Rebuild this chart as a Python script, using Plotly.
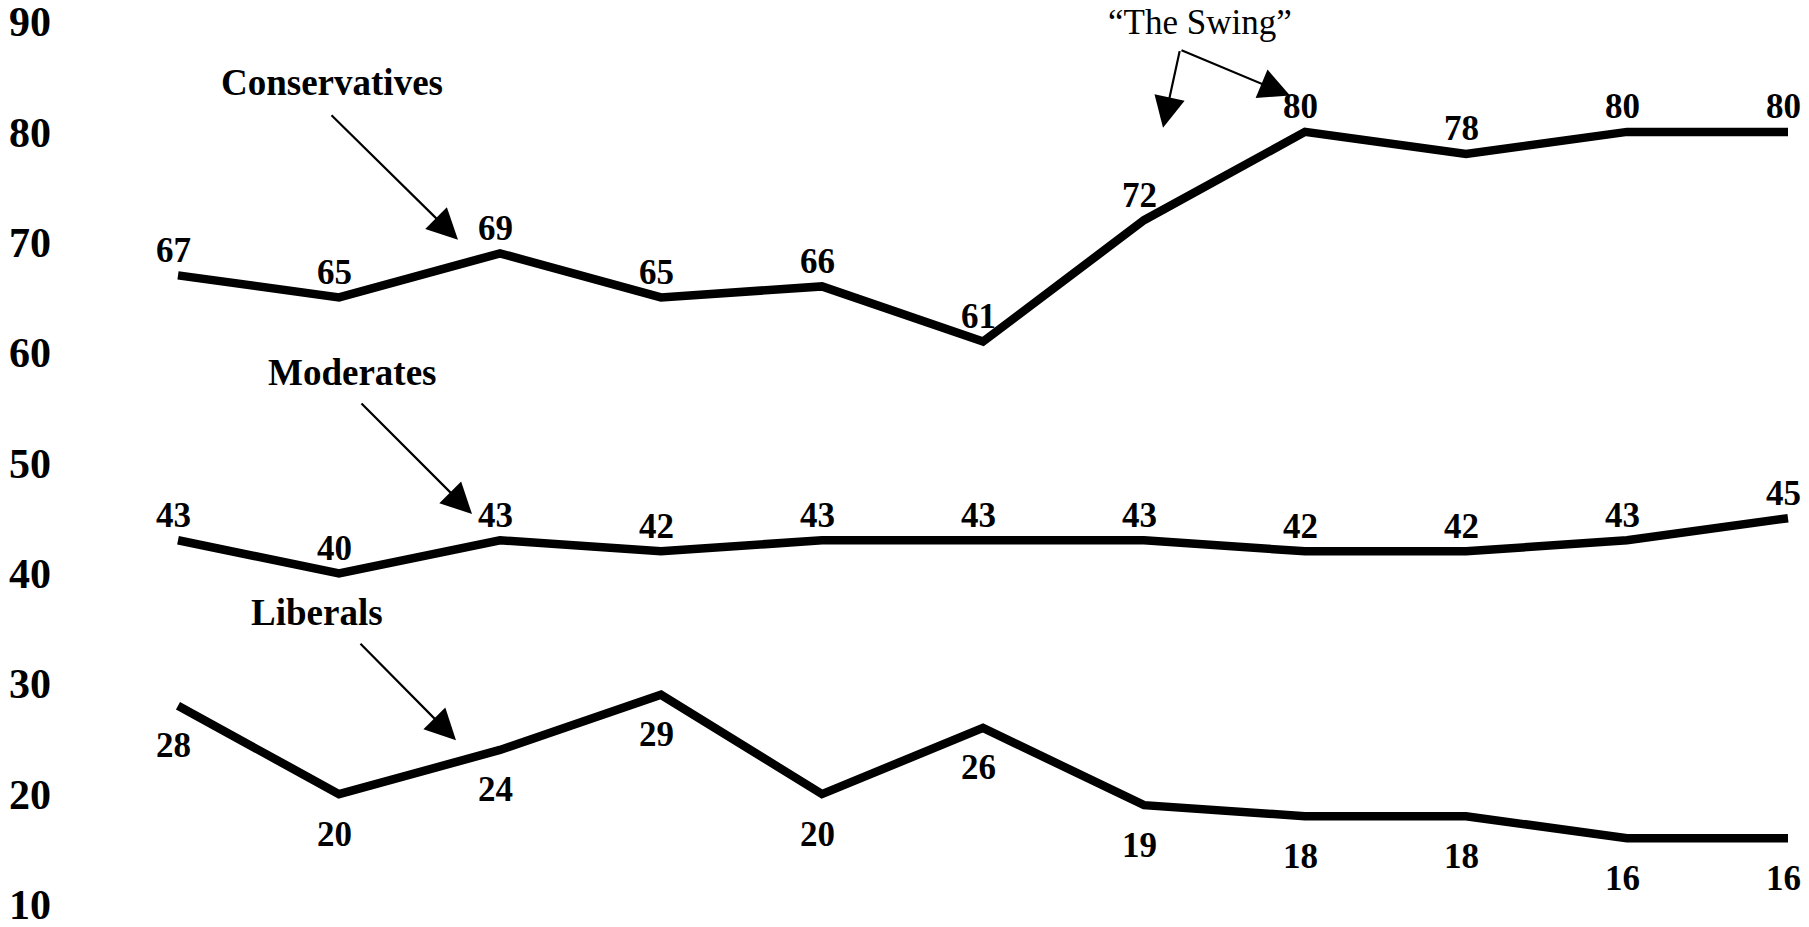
import plotly.graph_objects as go

# ---- data ----
points = list(range(11))
conservatives = [67, 65, 69, 65, 66, 61, 72, 80, 78, 80, 80]
moderates = [43, 40, 43, 42, 43, 43, 43, 42, 42, 43, 45]
liberals = [28, 20, 24, 29, 20, 26, 19, 18, 18, 16, 16]
y_ticks = [10, 20, 30, 40, 50, 60, 70, 80, 90]

# the page body has an 8px margin: size the figure so the page fits the window
OFF = 8
W, H = 1809 - 2 * OFF, 927 - 2 * OFF
Y_LO, Y_HI = 9.5, 90.5
Y90_PX, Y10_PX = 22, 904            # screenshot y of 90 and 10
PXU = (Y10_PX - Y90_PX) / 80.0
top_px = Y90_PX - (Y_HI - 90) * PXU
bot_px = Y10_PX + (10 - Y_LO) * PXU
ML, MR = 60 - OFF, 0
MT = top_px - OFF
MB = H - (bot_px - OFF)
PW, PH = W - ML - MR, H - MT - MB
X0_PX, DX_PX = 178 - OFF, 161
x_lo = -(X0_PX - ML) / DX_PX
x_hi = x_lo + PW / DX_PX

def px(xs):
    return (xs - OFF - ML) / PW

def py(ys):
    return (H - MB - (ys - OFF)) / PH

SERIF = "Liberation Serif, Times New Roman, serif"
lab_font = dict(family=SERIF, size=35, color="black", weight="bold")

fig = go.Figure()
annotations = []
for vals, dy in [(conservatives, 25), (moderates, 25), (liberals, -40)]:
    fig.add_trace(go.Scatter(
        x=points, y=vals, mode="lines",
        line=dict(color="black", width=8.5),
        hoverinfo="skip", showlegend=False))
    for xv, v in zip(points, vals):
        annotations.append(dict(x=xv, y=v, xref="x", yref="y", text=str(v),
                                showarrow=False, font=lab_font,
                                xanchor="center", yanchor="middle",
                                xshift=-5, yshift=dy))

ann_font = dict(family=SERIF, size=37, color="black", weight="bold")
for txt, (cx, cy) in [("Conservatives", (332, 83)),
                      ("Moderates", (352, 373)),
                      ("Liberals", (317, 612))]:
    annotations.append(dict(text=txt, x=px(cx), y=py(cy), xref="paper", yref="paper",
                            showarrow=False, font=ann_font, xanchor="center", yanchor="middle"))

annotations.append(dict(text="\u201cThe Swing\u201d", x=px(1200), y=py(23), xref="paper", yref="paper",
                        showarrow=False, xanchor="center", yanchor="middle",
                        font=dict(family=SERIF, size=35, color="black")))

arrows = [((330, 114), (458, 240)),
          ((360, 402), (472, 514)),
          ((359, 642), (456, 740)),
          ((1180, 50), (1163, 128)),
          ((1180, 50), (1290, 96))]
for (tx, ty), (hx, hy) in arrows:
    annotations.append(dict(text="", x=px(hx), y=py(hy), xref="paper", yref="paper",
                            showarrow=True, ax=tx - hx, ay=ty - hy, axref="pixel", ayref="pixel",
                            arrowhead=2, arrowsize=2.8, arrowwidth=2.2, arrowcolor="black",
                            standoff=0, startstandoff=0))

fig.update_layout(
    width=W, height=H,
    margin=dict(l=ML, r=MR, t=MT, b=MB, pad=0, autoexpand=False),
    paper_bgcolor="white", plot_bgcolor="white",
    xaxis=dict(range=[x_lo, x_hi], showgrid=False, zeroline=False, showline=False,
               showticklabels=False, ticks=""),
    yaxis=dict(range=[Y_LO, Y_HI], tickvals=y_ticks, ticktext=[str(v) for v in y_ticks],
               showgrid=False, zeroline=False, showline=False, ticks="",
               ticklabelstandoff=8, ticklabeloverflow="allow",
               tickfont=dict(family=SERIF, size=42, color="black", weight="bold")),
    annotations=annotations,
)

fig.write_html("out.html")
